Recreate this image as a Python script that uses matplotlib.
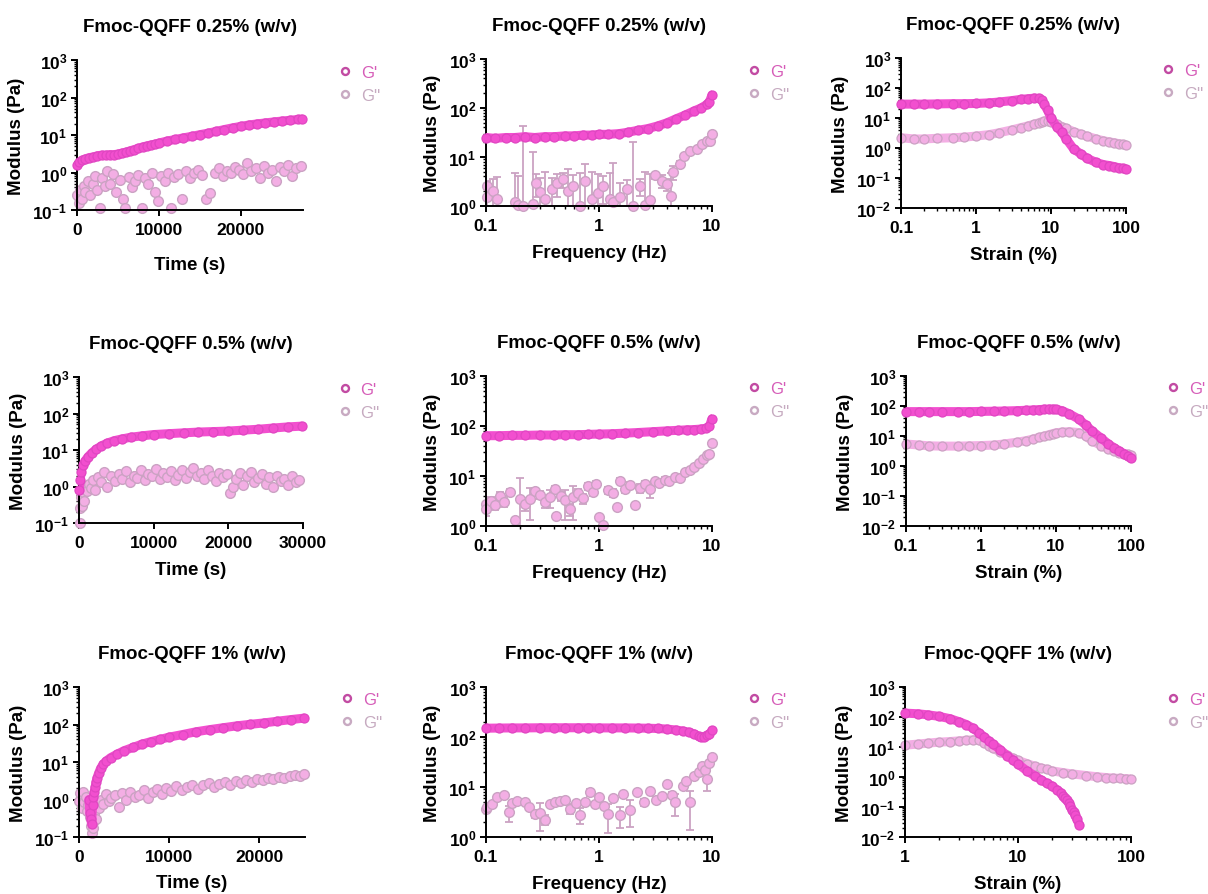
import numpy as np
import matplotlib
matplotlib.use('Agg')
import matplotlib.pyplot as plt
from matplotlib.lines import Line2D
from matplotlib.ticker import FixedLocator, FixedFormatter, FuncFormatter, LogLocator, NullFormatter

plt.rcParams['font.family'] = ['Liberation Sans', 'DejaVu Sans']
plt.rcParams['font.weight'] = 'bold'
plt.rcParams['mathtext.fontset'] = 'custom'
plt.rcParams['mathtext.rm'] = 'Liberation Sans:bold'
plt.rcParams['mathtext.it'] = 'Liberation Sans:bold'
plt.rcParams['mathtext.bf'] = 'Liberation Sans:bold'

# ---------------- data ----------------
titles = ['Fmoc-QQFF 0.25% (w/v)', 'Fmoc-QQFF 0.5% (w/v)', 'Fmoc-QQFF 1% (w/v)']
legend_labels = ["G'", "G''"]

# time sweeps
time_ticks_025 = [0, 10000, 20000]
time_ticks_05 = [0, 10000, 20000, 30000]
time_ticks_1 = [0, 10000, 20000]

t_g1_025 = [0, 300, 600, 1000, 1500, 2000, 2500, 3000, 3500, 4000, 4500, 5000, 5500, 6000, 6500, 7000,
            7500, 8000, 8500, 9000, 9500, 10000, 11000, 12000, 13000, 14000, 15000, 16000, 17000, 18000,
            19000, 20000, 21000, 22000, 23000, 24000, 25000, 26000, 27000, 27500]
g1_time_025 = [1.6, 1.9, 2.1, 2.3, 2.5, 2.6, 2.8, 2.9, 2.9, 3.0, 3.0, 3.1, 3.3, 3.5, 3.8, 4.1,
               4.4, 4.8, 5.1, 5.4, 5.7, 6.1, 6.9, 7.6, 8.4, 9.2, 10.2, 11.2, 12.5, 14.0,
               15.5, 17.0, 18.5, 19.8, 21.0, 22.3, 23.5, 24.7, 26.0, 26.5]
t_g2_025 = [0, 200, 400, 600, 800, 1000, 1300, 1600, 1900, 2200, 2500, 2800, 3100, 3400, 3700, 4000,
            4400, 4800, 5200, 5600, 5900, 6300, 6700, 7100, 7500, 7900, 8300, 8700, 9100, 9500, 9900,
            10300, 10700, 11100, 11500, 11800, 12300, 12800, 13300, 13800, 14300, 14800, 15300, 15800,
            16300, 16800, 17300, 17800, 18300, 18800, 19300, 19800, 20300, 20800, 21300, 21800, 22300,
            22800, 23300, 23800, 24300, 24800, 25300, 25800, 26300, 26800, 27300]
g2_time_025 = [0.25, 0.15, 0.35, 0.2, 0.45, 0.3, 0.6, 0.25, 0.5, 0.8, 0.35, 0.11, 0.7, 0.45, 1.1, 0.5,
               0.9, 0.3, 0.65, 0.2, 0.11, 0.75, 0.4, 0.6, 0.85, 0.11, 0.7, 0.5, 0.95, 0.3, 0.17,
               0.8, 0.6, 1.0, 0.11, 0.75, 0.9, 0.2, 1.1, 0.7, 0.95, 1.2, 0.85, 0.2,
               0.28, 1.0, 1.3, 0.8, 1.1, 0.95, 1.4, 1.2, 0.9, 1.8, 1.1, 1.3, 0.7,
               1.5, 1.0, 1.2, 0.6, 1.4, 1.1, 1.6, 0.8, 1.3, 1.5]

t_g1_05 = [50, 150, 300, 500, 800, 1200, 1700, 2300, 3000, 3800, 4700, 5700, 7000, 8500, 10000, 12000,
           14000, 16000, 18000, 20000, 22000, 24000, 26000, 28000, 29800]
g1_time_05 = [0.8, 1.5, 2.5, 3.8, 5.0, 6.5, 8.3, 10.5, 13, 15.5, 18, 20, 22.5, 24.5, 26.5, 28,
              29.5, 31, 32, 33, 35, 37, 40, 43, 45]
t_g2_05 = [100, 200, 300, 400, 500, 700, 900, 1100, 1300, 1600, 1900, 2200, 2600, 3000, 3400, 3800,
           4300, 4800, 5300, 5800, 6300, 6800, 7300, 7800, 8300, 8800, 9300, 9800, 10300, 10800, 11300,
           11800, 12300, 12800, 13300, 13800, 14300, 14800, 15300, 15800, 16300, 16800, 17300, 17800,
           18300, 18800, 19300, 19800, 20200, 20600, 21000, 21500, 22000, 22500, 23000, 23500, 24000,
           24500, 25000, 25500, 26000, 26500, 27000, 27500, 28000, 28500, 29000, 29500]
g2_time_05 = [0.1, 0.25, 0.5, 0.3, 0.7, 0.4, 1.0, 0.75, 1.2, 0.9, 1.5, 0.8, 1.8, 1.3, 2.5, 1.0,
              1.9, 1.4, 2.2, 1.6, 2.6, 1.3, 2.0, 1.7, 2.8, 1.5, 2.2, 1.9, 3.0, 1.6, 2.4,
              1.8, 2.7, 1.5, 2.1, 2.9, 1.7, 2.5, 3.2, 1.9, 2.3, 1.6, 2.8, 2.0,
              1.4, 2.4, 1.8, 2.2, 0.65, 0.95, 1.6, 2.3, 1.1, 1.9, 2.5, 1.3, 1.7,
              2.2, 1.2, 1.8, 1.0, 2.0, 1.4, 1.6, 1.1, 1.9, 1.3, 1.5]

t_g1_1 = [1100, 1200, 1300, 1400, 1500, 1600, 1700, 1800, 1900, 2000, 2200, 2400, 2700, 3000, 3500, 4200,
          5000, 6000, 7000, 8000, 9000, 10000, 11500, 13000, 14500, 16000, 17500, 19000, 20500, 22000,
          23500, 25000]
g1_time_1 = [1.0, 0.45, 0.3, 0.22, 0.7, 1.2, 1.6, 2.2, 3.0, 3.8, 5.2, 6.8, 8.8, 10.5, 13, 16,
             20, 24.5, 30, 35, 40, 46, 54, 64, 73, 82, 92, 101, 110, 122, 135, 148]
t_g2_1 = [0, 150, 300, 450, 600, 750, 900, 1050, 1200, 1300, 1400, 1500, 1600, 1700, 1850, 2000, 2200,
          2400, 2700, 3000, 3300, 3600, 4000, 4400, 4800, 5200, 5700, 6200, 6700, 7200, 7700, 8200,
          8700, 9200, 9700, 10200, 10800, 11400, 12000, 12600, 13200, 13800, 14400, 15000, 15600,
          16200, 16800, 17400, 18000, 18600, 19200, 19800, 20400, 21000, 21600, 22200, 22800, 23400,
          24000, 24600, 25000]
g2_time_1 = [0.9, 1.5, 0.6, 1.6, 0.85, 1.2, 0.5, 0.7, 0.35, 0.2, 0.13, 0.25, 0.17, 0.45, 0.3, 0.8, 0.6,
             1.0, 0.75, 1.4, 0.9, 1.1, 1.3, 0.65, 1.5, 1.0, 1.6, 1.2, 1.3, 1.8, 1.1, 1.6,
             1.9, 1.4, 2.0, 1.7, 2.3, 1.8, 2.1, 2.5, 1.9, 2.4, 2.8, 2.2, 2.6,
             3.0, 2.5, 3.2, 2.8, 3.4, 3.0, 3.6, 3.3, 3.8, 3.5, 4.0, 3.7, 4.2,
             4.6, 4.3, 4.8]

# frequency sweeps
freq_ticks = [0.1, 1, 10]
freq_ticklabels = ['0.1', '1', '10']

f_g1_025 = [0.1, 0.12, 0.15, 0.18, 0.22, 0.27, 0.33, 0.4, 0.5, 0.6, 0.72, 0.87, 1.0, 1.2, 1.5, 1.8,
            2.2, 2.7, 3.3, 4.0, 4.8, 5.8, 7.0, 8.0, 9.0, 9.5, 10.0]
g1_freq_025 = [25, 24, 25, 25, 26, 25, 26, 26, 27, 27, 28, 28, 29, 29, 30, 32,
               35, 38, 43, 50, 60, 72, 88, 100, 118, 135, 185]
f_g2_025 = [0.103, 0.103, 0.116, 0.124, 0.18, 0.193, 0.211, 0.262, 0.277, 0.30, 0.332, 0.381, 0.422,
            0.483, 0.535, 0.594, 0.679, 0.752, 0.86, 0.98, 1.09, 1.25, 1.34, 1.53, 1.76, 2.0, 2.3,
            2.55, 2.84, 3.1, 3.6, 3.97, 4.3, 4.5, 5.2, 5.7, 6.4, 7.3, 8.1, 9.0, 9.6, 10.0]
g2_freq_025 = [2.6, 1.5, 2.0, 1.4, 1.2, 1.05, 1.0, 1.1, 3.0, 1.9, 1.4, 2.2, 3.0,
               3.5, 2.0, 2.6, 1.02, 3.3, 1.4, 1.8, 2.6, 1.4, 1.2, 1.5, 2.2, 1.02, 2.6,
               1.05, 1.3, 4.2, 3.3, 2.8, 1.6, 4.9, 7.2, 10.6, 13.5, 14.6, 18.4, 21.5, 21.0, 29.4]
g2_freq_025_sd = [0.7, 1.0, 1.5, 2.5, 3.6, 3.0, 42.6, 11.3, 1.5, 1.8, 3.5, 1.6, 1.5,
                  1.2, 3.7, 1.6, 3.8, 3.9, 3.5, 2.7, 1.5, 3.4, 6.5, 1.5, 1.2, 19, 1.0,
                  3.8, 3.2, 0.6, 1.0, 0.8, 3.2, 1.5, 1.0, 1.0, 1.0, 1.0, 1.0, 1.0, 1.0, 1.0]

f_g1_05 = [0.1, 0.13, 0.17, 0.22, 0.3, 0.4, 0.5, 0.65, 0.8, 1.0, 1.3, 1.7, 2.2, 3.0, 4.0, 5.0,
           6.0, 7.0, 8.0, 8.8, 9.5, 10.0]
g1_freq_05 = [64, 64, 65, 65, 66, 66, 67, 67, 68, 69, 70, 72, 74, 77, 80, 82,
              84, 85, 87, 90, 100, 140]
f_g2_05 = [0.1, 0.1, 0.11, 0.12, 0.133, 0.145, 0.163, 0.18, 0.2, 0.22, 0.245, 0.27, 0.3, 0.33, 0.37,
           0.41, 0.42, 0.46, 0.5, 0.55, 0.59, 0.65, 0.72, 0.8, 0.88, 0.95, 1.01, 1.09, 1.2, 1.33,
           1.43, 1.53, 1.7, 1.9, 2.08, 2.3, 2.55, 2.8, 3.1, 3.4, 3.8, 4.2, 4.7, 5.2, 5.8,
           6.4, 7.0, 7.7, 8.4, 9.0, 9.5, 10.0]
g2_freq_05 = [2.8, 2.2, 3.2, 2.6, 4.0, 3.0, 4.7, 1.3, 3.5, 2.8, 3.5, 5.0, 4.2, 3.0, 3.8,
              5.6, 1.6, 4.0, 3.3, 2.2, 3.8, 4.5, 3.6, 6.2, 4.8, 6.9, 1.5, 1.05, 5.2, 4.6,
              2.4, 8.0, 5.5, 6.5, 2.6, 5.8, 6.8, 5.5, 8.0, 7.2, 8.5, 8.0, 9.5, 9.0, 12,
              13, 15, 18, 22, 26, 28, 45]
g2_freq_05_sd = [0.5, 0.6, 0.6, 0.5, 0.8, 0.6, 0.7, 0, 5.5, 0.8, 2.2, 0.8, 0.8, 0.7, 1.5,
                 0.8, 0, 0.8, 2.0, 0.6, 2.5, 1.0, 0.8, 1.0, 0.8, 1.0, 0, 0, 0.8, 0.8,
                 0, 1.0, 1.0, 1.0, 0, 1.2, 1.2, 1.8, 0.8, 0.8, 1.0, 1.0, 1.0, 1.0, 1.0,
                 1.0, 1.0, 1.0, 1.0, 1.0, 1.0, 1.0]

f_g1_1 = [0.1, 0.13, 0.17, 0.22, 0.3, 0.4, 0.5, 0.65, 0.8, 1.0, 1.3, 1.7, 2.2, 2.7, 3.3, 4.0,
          4.8, 5.5, 6.2, 7.0, 7.6, 8.0, 8.5, 9.0, 9.5, 10.0]
g1_freq_1 = [150, 151, 152, 152, 153, 153, 153, 153, 153, 152, 152, 152, 151, 150, 148, 144,
             138, 132, 125, 115, 103, 98, 102, 108, 115, 135]
f_g2_1 = [0.1, 0.103, 0.112, 0.126, 0.145, 0.16, 0.17, 0.19, 0.22, 0.24, 0.27, 0.30, 0.33, 0.37, 0.41,
          0.45, 0.5, 0.55, 0.62, 0.68, 0.75, 0.83, 0.92, 1.01, 1.1, 1.2, 1.34, 1.53, 1.63, 1.9,
          2.16, 2.5, 2.8, 3.2, 3.6, 4.0, 4.4, 4.7, 5.5, 5.9, 6.4, 7.0, 7.6, 8.1, 8.6, 9.0, 9.5, 10.0]
g2_freq_1 = [3.6, 4.0, 4.6, 6.2, 6.9, 3.1, 4.8, 5.3, 5.0, 3.9, 2.9, 3.0, 2.2, 4.5, 4.9,
             5.2, 5.5, 3.7, 4.8, 2.8, 5.0, 7.8, 4.5, 6.3, 4.2, 2.9, 6.0, 2.7, 7.2, 3.5,
             8.0, 5.0, 8.5, 5.5, 6.5, 11.5, 7.0, 5.0, 10.6, 13.4, 4.9, 16.8, 20, 26.5, 22, 14.5, 30, 39]
g2_freq_1_sd = [0.3, 0.3, 0.4, 0.5, 0.6, 1.1, 0.5, 0.5, 0.5, 0.5, 0.5, 1.7, 0.5, 0.5, 0.5,
                0.5, 0.5, 0.8, 0.5, 1.0, 0.5, 1.2, 0.5, 0.5, 0.5, 1.7, 0.5, 1.2, 0.5, 1.9,
                0.5, 0.8, 0.8, 0.8, 0.8, 1.0, 1.0, 2.4, 1.0, 1.0, 3.5, 1.0, 1.0, 1.0, 1.0, 6.0, 1.5, 1.5]

# amplitude (strain) sweeps
strain_ticks_a = [0.1, 1, 10, 100]
strain_ticklabels_a = ['0.1', '1', '10', '100']
strain_ticks_b = [1, 10, 100]
strain_ticklabels_b = ['1', '10', '100']

s_025 = [0.1, 0.15, 0.2, 0.3, 0.5, 0.7, 1, 1.5, 2, 3, 4, 5, 6, 7, 7.5, 8, 9, 10, 12, 14, 16, 20, 25, 30,
         40, 50, 60, 70, 80, 90, 100]
g1_strain_025 = [29, 29, 29, 29.5, 30, 30, 30.5, 32, 34, 38, 42, 44, 46, 45, 40, 30, 18, 10, 5, 3.3, 2.0,
                 0.93, 0.63, 0.46, 0.33, 0.28, 0.26, 0.24, 0.22, 0.21, 0.2]
g2_strain_025 = [2.2, 2.0, 2.0, 2.1, 2.2, 2.3, 2.5, 2.8, 3.2, 4.0, 4.8, 5.5, 6.3, 7.0, 7.5, 8.0, 8.0, 7.5,
                 6.2, 5.2, 4.5, 3.5, 2.9, 2.5, 2.0, 1.75, 1.6, 1.5, 1.4, 1.32, 1.27]

s_05 = [0.1, 0.15, 0.2, 0.3, 0.5, 0.7, 1, 1.5, 2, 3, 4, 5, 6, 7, 8, 9, 10, 12, 15, 20, 25, 30, 40, 50,
        60, 70, 80, 90, 100]
g1_strain_05 = [65, 65, 65, 65, 65, 65, 66, 67, 68, 70, 72, 74, 76, 78, 79, 79, 77, 70, 55, 37, 23, 15,
                8.5, 5.4, 4.0, 3.2, 2.6, 2.1, 1.8]
g2_strain_05 = [5.4, 5.0, 4.7, 4.6, 4.6, 4.7, 4.8, 5.0, 5.4, 6.2, 7.0, 8.0, 9.0, 10, 11, 12, 12.8, 13.5,
                14, 13, 10, 7.0, 4.8, 3.7, 3.2, 2.8, 2.6, 2.5, 2.4]

s_g1_1 = [1, 1.3, 1.6, 2, 2.5, 3, 3.5, 4, 4.5, 5, 5.5, 6, 7, 8, 9, 10, 12, 14, 16, 18, 20, 22, 24, 25,
          26, 27, 28, 29, 30, 31, 32, 33, 35]
g1_strain_1 = [135, 128, 118, 105, 88, 70, 56, 42, 30, 22, 16, 12.5, 8, 5.2, 3.7, 2.7, 1.6, 1.1, 0.8,
               0.62, 0.5, 0.38, 0.3, 0.24, 0.2, 0.17, 0.14, 0.11, 0.08, 0.066, 0.055, 0.04, 0.025]
s_g2_1 = [1, 1.3, 1.6, 2, 2.5, 3, 3.5, 4, 4.5, 5, 5.5, 6, 7, 8, 9, 10, 12, 14, 16, 18, 20, 25, 30, 40,
          50, 60, 70, 80, 90, 100]
g2_strain_1 = [11.5, 12.5, 13.5, 14.5, 15.2, 16, 16.8, 17.5, 16.5, 14, 11, 9.0, 6.8, 5.3, 4.3, 3.6, 2.8,
               2.3, 2.0, 1.8, 1.6, 1.4, 1.27, 1.12, 1.02, 0.96, 0.92, 0.9, 0.88, 0.86]

# ---------------- style ----------------
G1_BAND, G1_EDGE = '#F24FCF', '#E046C2'
G2_BAND, G2_EDGE = '#F3AEE4', '#CBA2C3'
LEG1_MK, LEG2_MK = '#C24BA3', '#C8AAC2'
LEG1_TX, LEG2_TX = '#D65CB8', '#C6AAC0'

W, H = 1208, 895
fig = plt.figure(figsize=(W / 100, H / 100), dpi=100)


def add_ax(x0, y0, x1, y1):
    return fig.add_axes([x0 / W, 1 - y1 / H, (x1 - x0) / W, (y1 - y0) / H])


def style(ax, title, xlabel, xlim, ylim, xticks, xticklabels, xlog, xlabelpad=8):
    if xlog:
        ax.set_xscale('log')
        ax.xaxis.set_minor_locator(LogLocator(base=10, subs=np.arange(2, 10), numticks=20))
        ax.xaxis.set_minor_formatter(NullFormatter())
    ax.set_xlim(*xlim)
    ax.xaxis.set_major_locator(FixedLocator(xticks))
    ax.xaxis.set_major_formatter(FixedFormatter(xticklabels))
    ax.set_yscale('log')
    ax.set_ylim(*ylim)
    ax.yaxis.set_major_locator(LogLocator(base=10, numticks=12))
    ax.yaxis.set_minor_locator(LogLocator(base=10, subs=np.arange(2, 10), numticks=30))
    ax.yaxis.set_major_formatter(FuncFormatter(lambda v, p: r'$\mathregular{10^{%d}}$' % int(round(np.log10(v)))))
    ax.yaxis.set_minor_formatter(NullFormatter())
    for s in ['top', 'right']:
        ax.spines[s].set_visible(False)
    for s in ['left', 'bottom']:
        ax.spines[s].set_linewidth(1.4)
    ax.tick_params(which='major', direction='out', length=4.5, width=1.4, labelsize=12.5, pad=2.5)
    ax.tick_params(which='minor', direction='out', length=2.5, width=1.0)
    ax.tick_params(axis='x', which='major', pad=4)
    ax.set_title(title, fontsize=13.5, fontweight='bold', pad=21)
    ax.set_xlabel(xlabel, fontsize=13.5, fontweight='bold', labelpad=xlabelpad)
    ax.set_ylabel('Modulus (Pa)', fontsize=13.5, fontweight='bold', labelpad=5)
    h = [Line2D([], [], ls='none', marker='o', ms=5, mfc='none', mec=LEG1_MK, mew=1.7),
         Line2D([], [], ls='none', marker='o', ms=5, mfc='none', mec=LEG2_MK, mew=1.7)]
    ax.legend(h, legend_labels, loc='upper left', bbox_to_anchor=(1.149, 0.965), frameon=False,
              borderpad=0, borderaxespad=0, handlelength=1.0, handletextpad=0.45, labelspacing=0.45,
              prop={'size': 12, 'weight': 'normal'}, labelcolor=[LEG1_TX, LEG2_TX])


def smooth(ax, x, y, band, edge, z):
    ax.plot(x, y, '-', color=band, lw=6.5, solid_capstyle='round', solid_joinstyle='round', zorder=z)
    ax.plot(x, y, 'o', ls='none', ms=6.5, mfc=band, mec=edge, mew=0.9, zorder=z + 0.1, clip_on=False)


def scatter(ax, x, y, face, edge, z):
    ax.plot(x, y, 'o', ls='none', ms=7, mfc=face, mec=edge, mew=1.0, zorder=z, clip_on=False)


def witherr(ax, x, y, sd, face, edge, z):
    ax.errorbar(x, y, yerr=sd, fmt='none', ecolor=edge, elinewidth=1.3, capsize=3, capthick=1.3, zorder=z)
    scatter(ax, x, y, face, edge, z + 0.1)


# axes boxes (pixel layout)
boxes = [
    [(77, 61, 303, 211), (486, 60, 712, 207), (901, 59, 1126, 209)],
    [(79, 378, 303, 524), (486, 377, 712, 527), (906, 377, 1131, 527)],
    [(79, 688, 305, 838), (486, 688, 712, 838), (905, 688, 1131, 838)],
]

time_data = [
    (t_g1_025, g1_time_025, t_g2_025, g2_time_025, (0, 27600), time_ticks_025, 14),
    (t_g1_05, g1_time_05, t_g2_05, g2_time_05, (0, 30000), time_ticks_05, 8),
    (t_g1_1, g1_time_1, t_g2_1, g2_time_1, (0, 25100), time_ticks_1, 7),
]
freq_data = [
    (f_g1_025, g1_freq_025, f_g2_025, g2_freq_025, g2_freq_025_sd),
    (f_g1_05, g1_freq_05, f_g2_05, g2_freq_05, g2_freq_05_sd),
    (f_g1_1, g1_freq_1, f_g2_1, g2_freq_1, g2_freq_1_sd),
]
strain_data = [
    (s_025, g1_strain_025, s_025, g2_strain_025, (0.1, 100), strain_ticks_a, strain_ticklabels_a),
    (s_05, g1_strain_05, s_05, g2_strain_05, (0.1, 100), strain_ticks_a, strain_ticklabels_a),
    (s_g1_1, g1_strain_1, s_g2_1, g2_strain_1, (1, 100), strain_ticks_b, strain_ticklabels_b),
]

for r in range(3):
    # time sweep
    ax = add_ax(*boxes[r][0])
    t1, v1, t2, v2, xl, tk, lp = time_data[r]
    scatter(ax, t2, v2, G2_BAND, G2_EDGE, 2)
    smooth(ax, t1, v1, G1_BAND, G1_EDGE, 3)
    style(ax, titles[r], 'Time (s)', xl, (0.1, 1000), tk, [str(v) for v in tk], False, xlabelpad=lp)

    # frequency sweep
    ax = add_ax(*boxes[r][1])
    f1, v1, f2, v2, sd = freq_data[r]
    witherr(ax, f2, v2, sd, G2_BAND, G2_EDGE, 2)
    smooth(ax, f1, v1, G1_BAND, G1_EDGE, 3)
    style(ax, titles[r], 'Frequency (Hz)', (0.1, 10), (1, 1000), freq_ticks, freq_ticklabels, True)

    # strain sweep
    ax = add_ax(*boxes[r][2])
    s1, v1, s2, v2, xl, tk, tl = strain_data[r]
    smooth(ax, s2, v2, G2_BAND, G2_EDGE, 2)
    smooth(ax, s1, v1, G1_BAND, G1_EDGE, 3)
    style(ax, titles[r], 'Strain (%)', xl, (0.01, 1000), tk, tl, True)

fig.savefig('out.png', dpi=100)
